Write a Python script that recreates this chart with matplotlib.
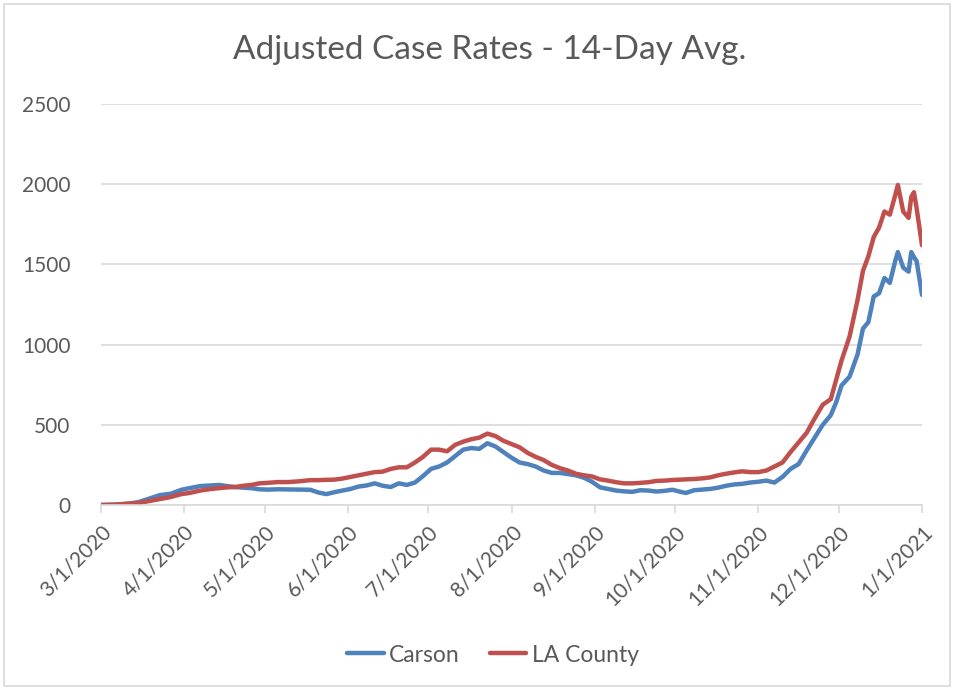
import matplotlib
matplotlib.use("Agg")
import matplotlib.pyplot as plt
import matplotlib.dates as mdates
from matplotlib.patches import Rectangle
import numpy as np
import pandas as pd

plt.rcParams['font.family'] = ['Lato', 'DejaVu Sans']

start_date = "2020-03-01"
# days since 3/1/2020
day_offsets = [0, 5, 10, 14, 18, 22, 26, 30, 33, 37, 41, 44, 47, 50, 53, 56, 59, 62, 66, 70,
               74, 78, 81, 84, 87, 90, 93, 96, 99, 102, 105, 108, 111, 114, 117, 120, 123, 126,
               129, 132, 135, 138, 141, 144, 147, 150, 153, 156, 159, 162, 165, 168, 171, 174,
               177, 180, 183, 186, 189, 192, 195, 198, 201, 204, 207, 210, 213, 216, 218, 221,
               224, 227, 230, 233, 236, 239, 242, 245, 248, 251, 254, 257, 260, 263, 266, 269,
               272, 274, 276, 279, 282, 284, 286, 288, 290, 292, 294, 296, 297, 299, 301, 302,
               303, 304, 306]
carson = [0, 2, 8, 18, 40, 62, 70, 95, 105, 118, 122, 125, 118, 112, 108, 105, 98, 96, 98, 97,
          96, 95, 78, 68, 80, 90, 100, 115, 122, 135, 120, 112, 135, 125, 140, 180, 225, 240,
          265, 305, 345, 355, 350, 385, 365, 330, 295, 265, 255, 240, 215, 200, 200, 193,
          185, 170, 145, 110, 100, 90, 85, 82, 92, 90, 84, 88, 95, 82, 75, 92,
          96, 100, 108, 120, 128, 132, 140, 145, 152, 140, 175, 225, 255, 340, 420, 500,
          560, 640, 745, 800, 940, 1100, 1140, 1300, 1320, 1415, 1385, 1520, 1577, 1480, 1455, 1577,
          1545, 1520, 1310]
la_county = [0, 2, 8, 12, 25, 37, 50, 68, 75, 90, 100, 105, 110, 112, 120, 125, 135, 138, 143, 143,
             148, 155, 155, 157, 158, 165, 175, 185, 195, 205, 208, 225, 235, 235, 265, 300, 345, 345,
             335, 375, 395, 410, 420, 445, 430, 400, 380, 360, 325, 300, 280, 250, 230, 215,
             195, 185, 178, 160, 152, 142, 135, 135, 138, 142, 150, 152, 156, 158, 160, 162,
             166, 172, 185, 195, 203, 210, 205, 205, 215, 240, 265, 330, 390, 450, 540, 625,
             660, 780, 900, 1050, 1280, 1460, 1550, 1670, 1730, 1830, 1810, 1930, 1995, 1830, 1790, 1920,
             1950, 1850, 1620]
series_names = ["Carson", "LA County"]
x_tick_labels = ["3/1/2020", "4/1/2020", "5/1/2020", "6/1/2020", "7/1/2020", "8/1/2020",
                 "9/1/2020", "10/1/2020", "11/1/2020", "12/1/2020", "1/1/2021"]
y_ticks = [0, 500, 1000, 1500, 2000, 2500]

dates = pd.Timestamp(start_date) + pd.to_timedelta(day_offsets, unit="D")
tick_dates = pd.to_datetime(x_tick_labels, format="%m/%d/%Y")

W, H = 957, 690
fig = plt.figure(figsize=(W / 100, H / 100), dpi=100)
fig.patches.append(Rectangle((4 / W, 4 / H), 946 / W, 682 / H, transform=fig.transFigure,
                             fill=False, edgecolor="#D9D9D9", linewidth=1.2))

ax = fig.add_axes([101 / W, (H - 505) / H, 821 / W, 401 / H])
text_color = "#595959"
grid_color = "#D9D9D9"

ax.plot(dates, carson, color="#4F81BD", lw=3.2, label=series_names[0], solid_capstyle="round",
        solid_joinstyle="round")
ax.plot(dates, la_county, color="#C0504D", lw=3.2, label=series_names[1], solid_capstyle="round",
        solid_joinstyle="round")

ax.set_xlim(tick_dates[0], tick_dates[-1])
ax.set_ylim(0, 2500)
ax.set_yticks(y_ticks)
ax.set_yticklabels([str(v) for v in y_ticks])
ax.set_xticks(tick_dates)
ax.set_xticklabels(x_tick_labels, rotation=45, ha="right", rotation_mode="anchor")

for s in ["top", "right", "left"]:
    ax.spines[s].set_visible(False)
ax.spines["bottom"].set_color(grid_color)
ax.spines["bottom"].set_linewidth(1.2)
ax.grid(axis="y", color=grid_color, linewidth=1.2)
ax.set_axisbelow(True)
ax.tick_params(axis="y", length=0, pad=22, labelsize=15, labelcolor=text_color)
ax.tick_params(axis="x", length=6, width=1.2, color=grid_color, direction="out", pad=6,
               labelsize=15, labelcolor=text_color)

fig.text(490 / W, 1 - 50 / H, "Adjusted Case Rates - 14-Day Avg.", ha="center", va="center",
         fontsize=24, color=text_color)

leg = fig.legend(loc="center", bbox_to_anchor=(493 / W, 1 - 655 / H), ncol=2, frameon=False,
                 fontsize=16.5, handlelength=1.6, handletextpad=0.25, columnspacing=1.3)
for t in leg.get_texts():
    t.set_color(text_color)

fig.savefig("out.png", dpi=100)
